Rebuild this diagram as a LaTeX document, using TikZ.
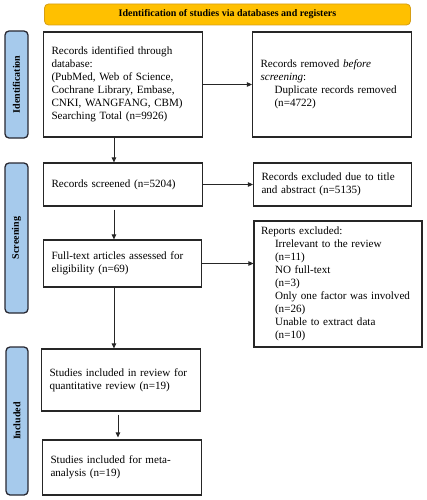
\documentclass[tikz,border=0pt]{standalone}
\usepackage{fontspec}
\setmainfont{Liberation Serif}
\usetikzlibrary{arrows.meta,calc}
\definecolor{bannerfill}{RGB}{255,192,0}
\definecolor{bannerdraw}{RGB}{214,158,20}
\definecolor{sidefill}{RGB}{166,202,236}
\definecolor{sidedraw}{RGB}{40,40,50}
\newcommand{\nohyph}{\hyphenpenalty=10000\relax}
\tikzset{
  box/.style={draw=black!85, line width=1.1pt, fill=white, align=left, inner xsep=8pt, inner ysep=2pt,
    font=\fontsize{11.1}{13}\selectfont\nohyph},
  side/.style={draw=sidedraw, fill=sidefill, line width=1.3pt, rounded corners=4pt,
    font=\bfseries\fontsize{10}{12}\selectfont},
  banner/.style={draw=bannerdraw, fill=bannerfill, line width=0.8pt, rounded corners=4pt,
    font=\bfseries\fontsize{10}{12}\selectfont},
  arr/.style={-{Triangle[length=5pt,width=4.5pt]}, line width=0.8pt, black!85},
  ln/.style={line width=0.8pt, black!85}
}
\newcommand{\ind}{\hspace*{14pt}}
\begin{document}
\begin{tikzpicture}[x=1pt,y=-1pt]
\useasboundingbox (0,0) rectangle (426,500);
% banner
\node[banner, minimum width=366pt, minimum height=21pt] (ban) at (227.5,14.5) {Identification of studies via databases and registers};
% side labels
\node[side, minimum width=23pt, minimum height=107pt] (sid1) at (16.5,84.5) {};
\node[rotate=90, font=\bfseries\fontsize{10}{12}\selectfont] (sid1t) at (sid1.center) {Identification};
\node[side, minimum width=23pt, minimum height=150pt] (sid2) at (16.5,238) {};
\node[rotate=90, font=\bfseries\fontsize{10}{12}\selectfont] (sid2t) at (sid2.center) {Screening};
\node[side, minimum width=22pt, minimum height=148pt] (sid3) at (17,421) {};
\node[rotate=90, font=\bfseries\fontsize{10}{12}\selectfont] (sid3t) at (sid3.center) {Included};
% boxes
\node[box, text width=143pt, minimum height=105pt] (b1) at (123,84.5) {Records identified through\\database:\\(PubMed, Web of Science,\\Cochrane Library, Embase,\\CNKI, WANGFANG, CBM)\\Searching Total (n=9926)};
\node[box, text width=143pt, minimum height=105pt] (b2) at (332,84.5) {Records removed \textit{before}\\\textit{screening}:\\\ind Duplicate records removed\\\ind (n=4722)};
\node[box, text width=143pt, minimum height=43pt] (b3) at (123,184.5) {Records screened (n=5204)};
\node[box, text width=142pt, minimum height=43pt] (b4) at (332.5,184.5) {Records excluded due to title\\and abstract (n=5135)};
\node[box, text width=142pt, minimum height=47pt] (b5) at (122.5,263.5) {Full-text articles assessed for\\eligibility (n=69)};
\node[box, text width=154pt, inner xsep=7pt, minimum height=126pt] (b6) at (338,284) {Reports excluded:\\\ind Irrelevant to the review\\\ind (n=11)\\\ind NO full-text\\\ind (n=3)\\\ind Only one factor was involved\\\ind (n=26)\\\ind Unable to extract data\\\ind (n=10)};
\node[box, text width=143pt, minimum height=62pt] (b7) at (121,380) {Studies included in review for\\quantitative review (n=19)};
\node[box, text width=143pt, minimum height=55pt] (b8) at (122,467.5) {Studies included for meta-\\analysis (n=19)};
% connectors
\draw[arr] (b1.east) -- (b2.west);
\draw[arr] ([xshift=71pt]b1.south west) -- ([xshift=71pt]b3.north west);
\draw[arr] (b3.east) -- (b4.west);
\draw[arr, shorten <=3pt] ([xshift=71pt]b3.south west) -- ([xshift=71pt]b5.north west);
\draw[arr] (b5.east) -- (b5.east -| b6.west);
\draw[arr] ([xshift=71pt]b5.south west) -- ([xshift=73pt]b7.north west);
\draw[arr, shorten <=3pt, shorten >=2pt] ([xshift=77pt]b7.south west) -- ([xshift=76pt]b8.north west);
\end{tikzpicture}
\end{document}
